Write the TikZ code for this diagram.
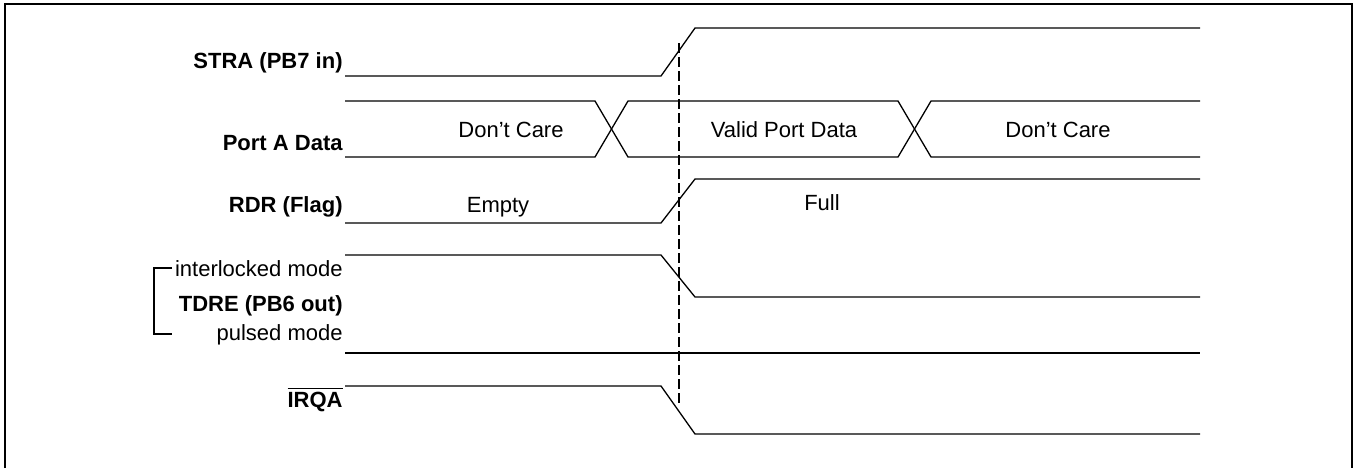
\documentclass[tikz,border=0pt]{standalone}
\usepackage{fontspec}
\setmainfont{Liberation Sans}
\usepackage{tikz}
\usetikzlibrary{positioning}

\tikzset{
    wave/.style={line width=0.65pt, line join=miter},
    siglabel/.style={anchor=base east, inner sep=0pt, font=\fontsize{11pt}{13pt}\selectfont\bfseries},
    modelabel/.style={anchor=base east, inner sep=0pt, font=\fontsize{11pt}{13pt}\selectfont},
    statelabel/.style={anchor=base, inner sep=0pt, font=\fontsize{11pt}{13pt}\selectfont},
}

\begin{document}
\begin{tikzpicture}[x=0.5pt, y=-0.5pt]
            \useasboundingbox (0,0) rectangle (1353,468);
            % frame
            \draw [line width=0.8pt] (5,468) -- (5,4) -- (1352,4) -- (1352,468);

            % signal names
            \node[siglabel] at (343,68)   (stra) {STRA (PB7 in)};
            \node[siglabel] at (343,150)  (porta) {Port A Data};
            \node[siglabel] at (343,212)  (rdr) {RDR (Flag)};
            \node[modelabel] at (343,276) (inter) {interlocked mode};
            \node[siglabel] at (343,311)  (tdre) {TDRE (PB6 out)};
            \node[modelabel] at (343,340) (pulsed) {pulsed mode};
            \node[siglabel] at (343,407)  (irqa) {$\overline{\mbox{\bfseries IRQA}}$};

            % bracket for the two TDRE modes
            \draw [wave] (172,268) -- (154,268) -- (154,334) -- (172,334);

            % waveforms
            \draw [wave] (345,76) -- (661,76) -- (695,28) -- (1200,28);
            \draw [wave] (345,101) -- (595,101) -- (628,157) -- (898,157) -- (931,101) -- (1200,101);
            \draw [wave] (345,157) -- (595,157) -- (628,101) -- (898,101) -- (931,157) -- (1200,157);
            \draw [wave] (345,223) -- (661,223) -- (695,179) -- (1200,179);
            \draw [wave] (345,255) -- (661,255) -- (695,297) -- (1200,297);
            \draw [wave] (345,353) -- (1200,353);
            \draw [wave] (345,386) -- (661,386) -- (695,434) -- (1200,434);

            % states
            \node[statelabel] at (511,137)  (dc1) {Don’t Care};
            \node[statelabel] at (784,137)  (valid) {Valid Port Data};
            \node[statelabel] at (1058,137) (dc2) {Don’t Care};
            \node[statelabel] at (498,212)  (empty) {Empty};
            \node[statelabel] at (822,210)  (full) {Full};

            % strobe edge
            \draw [line width=0.6pt, dash pattern=on 5pt off 2pt] (679,43) -- (679,403);

        \end{tikzpicture}
\end{document}
